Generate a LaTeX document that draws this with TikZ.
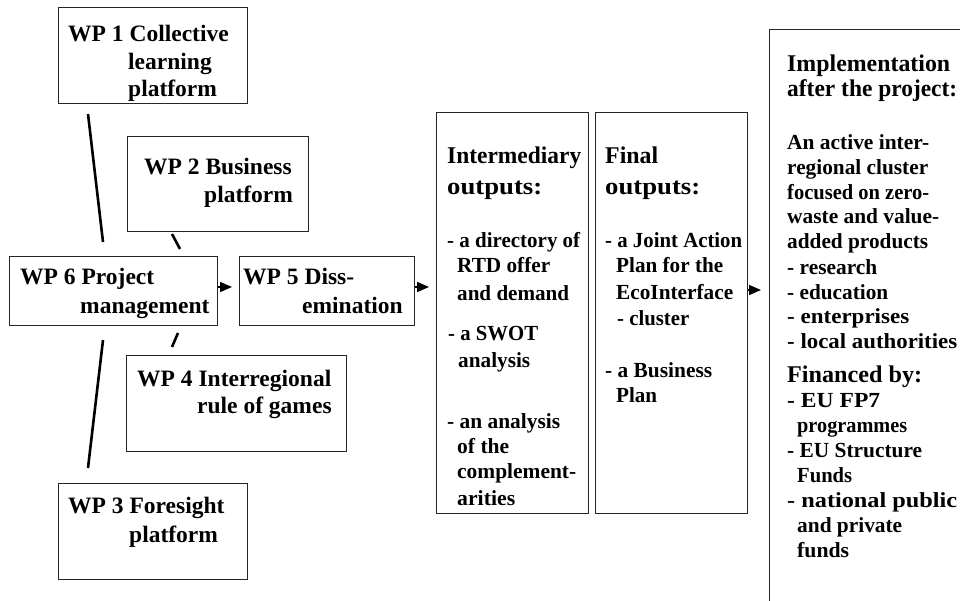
\documentclass[tikz,border=0pt]{standalone}
\usepackage{fontspec}
\usepackage{graphicx}
\setmainfont{Liberation Serif}
\usetikzlibrary{arrows.meta}
\newcommand\fw[2]{\resizebox{#1pt}{\height}{#2}}
\begin{document}
\begin{tikzpicture}[x=1pt,y=-1pt,
  box/.style={draw=black!85,line width=1pt,fill=white},
  txt/.style={anchor=base west,inner sep=0pt,font=\fontsize{23.5}{28}\selectfont\bfseries},
  head/.style={anchor=base west,inner sep=0pt,font=\fontsize{24}{28}\selectfont\bfseries},
  item/.style={anchor=base west,inner sep=0pt,font=\fontsize{21.5}{25}\selectfont\bfseries},
  link/.style={line width=2.6pt,black},
  arr/.style={line width=1.6pt,-{Triangle[length=12pt,width=10pt]}}]
\useasboundingbox (0,0) rectangle (960,601);
\clip (0,0) rectangle (960,601);
% boxes
\draw[box] (58,8) rectangle (247,104);
\node[inner sep=0pt] (wp1) at (152.5,56) {};
\draw[box] (127,137) rectangle (308,232);
\node[inner sep=0pt] (wp2) at (217.5,184.5) {};
\draw[box] (9,257) rectangle (217,325);
\node[inner sep=0pt] (wp6) at (113,291) {};
\draw[box] (239,257) rectangle (414,325);
\node[inner sep=0pt] (wp5) at (326.5,291) {};
\draw[box] (126,355) rectangle (346,451);
\node[inner sep=0pt] (wp4) at (236,403) {};
\draw[box] (58,483) rectangle (247,579);
\node[inner sep=0pt] (wp3) at (152.5,531) {};
\draw[box] (436,113) rectangle (588,513);
\node[inner sep=0pt] (inter) at (512,313) {};
\draw[box] (595,113) rectangle (747,513);
\node[inner sep=0pt] (final) at (671,313) {};
\draw[box] (769,30) rectangle (980,620);
\node[inner sep=0pt] (impl) at (870,320) {};
% connector end points
\coordinate (a1) at (88,114);  \coordinate (a2) at (103,242);
\coordinate (b1) at (172,234); \coordinate (b2) at (180,249);
\coordinate (c1) at (178,333); \coordinate (c2) at (172,347);
\coordinate (d1) at (103,340); \coordinate (d2) at (88,468);
\draw[link] (a1) -- (a2);
\draw[link] (b1) -- (b2);
\draw[link] (c1) -- (c2);
\draw[link] (d1) -- (d2);
% arrows
\coordinate (e1) at (217.5,287); \coordinate (e2) at (232,287);
\coordinate (f1) at (414.5,287); \coordinate (f2) at (429,287);
\coordinate (g1) at (747.5,290); \coordinate (g2) at (761,290);
\draw[arr] (e1) -- (e2);
\draw[arr] (f1) -- (f2);
\draw[arr] (g1) -- (g2);
% WP texts
\node[txt] (t11) at (68,42) {WP 1 Collective};
\node[txt] (t12) at (128,70) {learning};
\node[txt] (t13) at (128,97) {platform};
\node[txt] (t21) at (144,175) {WP 2 Business};
\node[txt] (t22) at (204,203) {platform};
\node[txt] (t61) at (20,285) {WP 6 Project};
\node[txt] (t62) at (80,313) {management};
\node[txt] (t51) at (243,285) {WP 5 Diss-};
\node[txt] (t52) at (302,313) {emination};
\node[txt] (t41) at (137,386) {WP 4 Interregional};
\node[txt] (t42) at (197,413) {rule of games};
\node[txt] (t31) at (68,513) {WP 3 Foresight};
\node[txt] (t32) at (129,542) {platform};
% intermediary
\node[head] (i1) at (447,164) {\fw{134}{Intermediary}};
\node[head] (i2) at (447,195) {\fw{95}{outputs:}};
\node[item] (i3) at (447,248) {\fw{133}{- a directory of}};
\node[item] (i4) at (457,273) {\fw{93}{RTD offer}};
\node[item] (i5) at (457,300) {\fw{112}{and demand}};
\node[item] (i6) at (448,340) {\fw{90}{- a SWOT}};
\node[item] (i7) at (458,367) {\fw{72}{analysis}};
\node[item] (i8) at (447,428) {\fw{113}{- an analysis}};
\node[item] (i9) at (457,453) {\fw{52}{of the}};
\node[item] (i10) at (457,478) {\fw{119}{complement-}};
\node[item] (i11) at (457,505) {\fw{58}{arities}};
% final
\node[head] (f01) at (605,164) {\fw{53}{Final}};
\node[head] (f02) at (605,195) {\fw{95}{outputs:}};
\node[item] (f03) at (605,248) {\fw{137}{- a Joint Action}};
\node[item] (f04) at (616,273) {\fw{107}{Plan for the}};
\node[item] (f05) at (616,300) {\fw{117}{EcoInterface}};
\node[item] (f06) at (617,325) {\fw{72}{- cluster}};
\node[item] (f07) at (605,377) {\fw{107}{- a Business}};
\node[item] (f08) at (616,402) {\fw{41}{Plan}};
% implementation
\node[head] (m01) at (787,72) {\fw{163}{Implementation}};
\node[head] (m02) at (787,97) {\fw{170}{after the project:}};
\node[item] (m03) at (787,150) {\fw{142}{An active inter-}};
\node[item] (m04) at (787,175) {\fw{141}{regional cluster}};
\node[item] (m05) at (787,200) {\fw{142}{focused on zero-}};
\node[item] (m06) at (787,224) {\fw{152}{waste and value-}};
\node[item] (m07) at (787,249) {\fw{141}{added products}};
\node[item] (m08) at (787,274) {\fw{90}{- research}};
\node[item] (m09) at (787,299) {\fw{101}{- education}};
\node[item] (m10) at (787,323) {\fw{122}{- enterprises}};
\node[item] (m11) at (787,348) {\fw{170}{- local authorities}};
\node[head] (m12) at (787,382) {\fw{135}{Financed by:}};
\node[item] (m13) at (787,407) {\fw{93}{- EU FP7}};
\node[item] (m14) at (797,432) {\fw{110}{programmes}};
\node[item] (m15) at (787,457) {\fw{135}{- EU Structure}};
\node[item] (m16) at (797,482) {\fw{55}{Funds}};
\node[item] (m17) at (787,507) {\fw{170}{- national public}};
\node[item] (m18) at (797,532) {\fw{105}{and private}};
\node[item] (m19) at (797,557) {\fw{52}{funds}};
\end{tikzpicture}
\end{document}
